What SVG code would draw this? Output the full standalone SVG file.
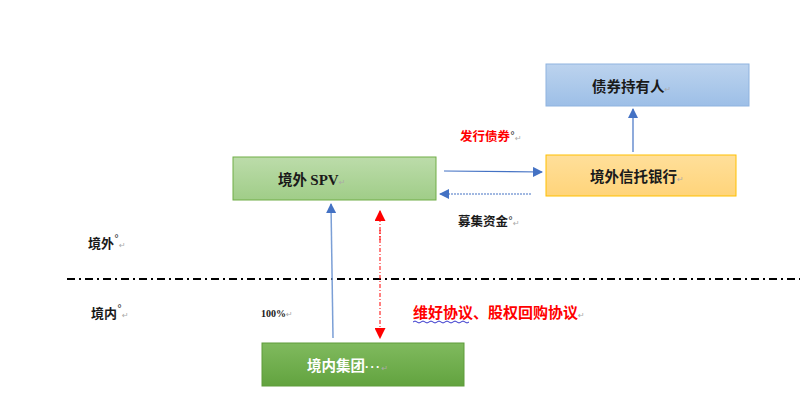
<svg xmlns="http://www.w3.org/2000/svg" width="810" height="418" viewBox="0 0 810 418">
<style>
.t{font-family:"Noto Sans CJK SC","Noto Sans",sans-serif;font-weight:bold;font-size:14.5px;fill:#1a1a1a}
.s{font-family:"Liberation Serif","Noto Sans CJK SC",serif;font-weight:bold}
.m{font-family:"DejaVu Sans",sans-serif;font-size:8px;fill:#aaaaaa;font-weight:normal}
.o{font-family:"DejaVu Sans",sans-serif;font-size:10px;fill:#333333;font-weight:normal}
.blue{stroke:#4472c4;stroke-width:1.2;fill:none}
</style>
<defs>
<linearGradient id="gb" x1="0" y1="0" x2="0" y2="1"><stop offset="0" stop-color="#bcd3ee"/><stop offset="1" stop-color="#9dbfe7"/></linearGradient>
<linearGradient id="gg" x1="0" y1="0" x2="0" y2="1"><stop offset="0" stop-color="#bcdcaa"/><stop offset="1" stop-color="#a0cd88"/></linearGradient>
<linearGradient id="gy" x1="0" y1="0" x2="0" y2="1"><stop offset="0" stop-color="#ffdf9a"/><stop offset="1" stop-color="#ffd47a"/></linearGradient>
<linearGradient id="gd" x1="0" y1="0" x2="0" y2="1"><stop offset="0" stop-color="#80ba5e"/><stop offset="1" stop-color="#62a33f"/></linearGradient>
<marker id="ab" viewBox="0 0 10 10" refX="9" refY="5" markerWidth="10" markerHeight="10" markerUnits="userSpaceOnUse" orient="auto"><path d="M0,0L10,5L0,10z" fill="#4472c4"/></marker>
<marker id="ar" viewBox="0 0 10 10" refX="9" refY="5" markerWidth="11" markerHeight="11" markerUnits="userSpaceOnUse" orient="auto"><path d="M0,0L10,5L0,10z" fill="#ff0000"/></marker>
</defs>
<rect width="810" height="418" fill="#ffffff"/>

<line x1="67" y1="279" x2="800" y2="279" stroke="#000" stroke-width="1.8" stroke-dasharray="8,4,2,4"/>

<g id="holder">
<rect x="546" y="64" width="203" height="42" fill="url(#gb)" stroke="#8fb3df" stroke-width="1"/>
<text x="592" y="92" class="t">债券持有人<tspan class="m">↵</tspan></text>
</g>
<g id="spv">
<rect x="233" y="157" width="203" height="43" fill="url(#gg)" stroke="#70ad47" stroke-width="1"/>
<text x="278" y="185" class="t">境外 <tspan class="s" style="font-size:15px">SPV</tspan><tspan class="m">↵</tspan></text>
</g>
<g id="bank">
<rect x="546" y="155" width="190" height="41" fill="url(#gy)" stroke="#ffc000" stroke-width="1"/>
<text x="590" y="182" class="t">境外信托银行<tspan class="m">↵</tspan></text>
</g>
<g id="group">
<rect x="262" y="343" width="202" height="43" fill="url(#gd)" stroke="#5e9c3a" stroke-width="1"/>
<text x="307" y="371" class="t" style="fill:#ffffff">境内集团<tspan style="font-family:'Liberation Sans',sans-serif;font-size:12px;letter-spacing:1.5px">···</tspan><tspan class="m">↵</tspan></text>
</g>

<g id="connectors">
<line x1="633" y1="152" x2="633" y2="109" class="blue" marker-end="url(#ab)"/>
<line x1="444" y1="171" x2="542" y2="172" class="blue" marker-end="url(#ab)"/>
<line x1="531" y1="194" x2="440" y2="194" class="blue" stroke-dasharray="2,1" marker-end="url(#ab)"/>
<line x1="333" y1="338" x2="331" y2="204" stroke="#7b9fd6" stroke-width="1.5" marker-end="url(#ab)"/>
<line x1="380" y1="240" x2="380" y2="211" stroke="#ff0000" stroke-width="1" stroke-dasharray="4,2,1,2" marker-end="url(#ar)"/>
<line x1="380" y1="230" x2="380" y2="338" stroke="#ff0000" stroke-width="1" stroke-dasharray="4,2,1,2" marker-end="url(#ar)"/>
</g>

<g id="labels">
<text x="460" y="141" class="t" style="fill:#ff0000;font-size:12.5px">发行债券<tspan class="o" dy="-2">°</tspan><tspan class="m" dy="2">↵</tspan></text>
<text x="458" y="226" class="t" style="font-size:12.5px">募集资金<tspan class="o" dy="-2">°</tspan><tspan class="m" dy="2">↵</tspan></text>
<text x="88" y="248" class="t" style="font-size:13px">境外<tspan class="o" dy="-6">°</tspan><tspan class="m" dy="6">↵</tspan></text>
<text x="91" y="318" class="t" style="font-size:13px">境内<tspan class="o" dy="-6">°</tspan><tspan class="m" dy="6">↵</tspan></text>
<text x="261" y="317" class="s" style="font-size:10px;fill:#1a1a1a">100%<tspan class="m">↵</tspan></text>
<text x="413" y="318" class="t" style="fill:#ff0000;font-size:15px">维好协议、股权回购协议<tspan class="m">↵</tspan></text>
<path d="M413,322 q2,-2 4,0 t4,0 t4,0 t4,0 t4,0 t4,0 t4,0 t4,0 t4,0 t4,0 t4,0 t4,0 t4,0 t4,0" stroke="#3333cc" stroke-width="1" fill="none"/>
</g>
</svg>
